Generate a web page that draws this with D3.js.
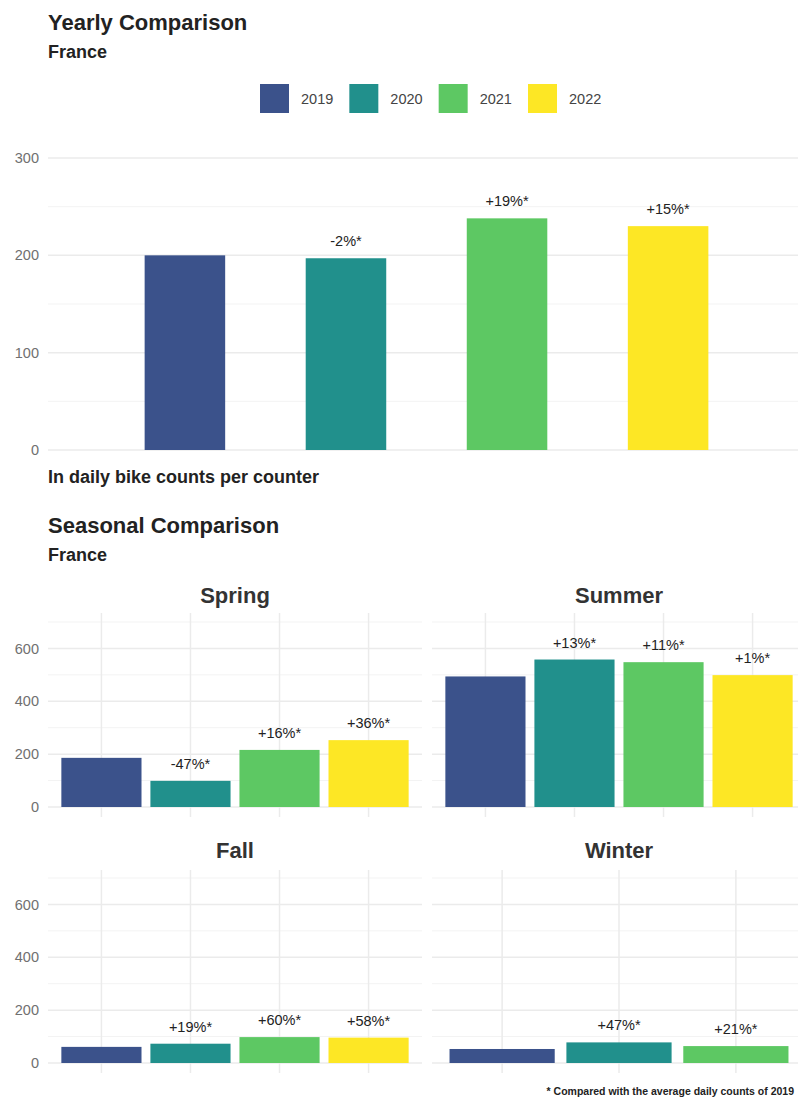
<!DOCTYPE html>
<html>
<head>
<meta charset="utf-8">
<script src="https://cdn.jsdelivr.net/npm/d3@7"></script>
<style>
  html, body { margin: 0; padding: 0; background: #ffffff; }
  svg { display: block; font-family: "Liberation Sans", Arial, sans-serif; }
</style>
</head>
<body>
<svg id="chart" width="798" height="1099"></svg>
<script>
// ---- data ----
const years = ["2019", "2020", "2021", "2022"];
const yearColors = ["#3B528B", "#21908C", "#5DC863", "#FDE725"];

const yearlyValues = [200, 197, 238, 230];
const yearlyLabels = ["", "-2%*", "+19%*", "+15%*"];
const yearlyTicks = [0, 100, 200, 300];
const yearlyMinorTicks = [50, 150, 250];

const seasons = ["Spring", "Summer", "Fall", "Winter"];
const springValues = [186, 99, 216, 253];
const springLabels = ["", "-47%*", "+16%*", "+36%*"];
const summerValues = [494, 558, 548, 499];
const summerLabels = ["", "+13%*", "+11%*", "+1%*"];
const fallValues = [61, 73, 98, 96];
const fallLabels = ["", "+19%*", "+60%*", "+58%*"];
const winterValues = [53, 78, 64];
const winterLabels = ["", "+47%*", "+21%*"];
const seasonalTicks = [0, 200, 400, 600];
const seasonalMinorTicks = [100, 300, 500, 700];

const seasonValues = [springValues, summerValues, fallValues, winterValues];
const seasonLabels = [springLabels, summerLabels, fallLabels, winterLabels];

// ---- styles ----
const TEXT_DARK = "#222222";
const TEXT_TICK = "#707070";
const GRID_MAJOR = "#ebebeb";
const GRID_MINOR = "#f3f3f3";

const svg = d3.select("#chart");
const color = d3.scaleOrdinal().domain(years).range(yearColors);

function addText(g, x, y, txt, size, weight, fill, anchor) {
  return g.append("text")
    .attr("x", x).attr("y", y)
    .attr("font-size", size)
    .attr("font-weight", weight || "normal")
    .attr("fill", fill || TEXT_DARK)
    .attr("text-anchor", anchor || "start")
    .text(txt);
}

// ================= Yearly comparison =================
addText(svg, 48, 30, "Yearly Comparison", 22, "bold");
addText(svg, 48, 58, "France", 18, "bold");

// legend
const legend = svg.append("g");
const legendX = d3.scalePoint().domain(years).range([260, 528]);
years.forEach(y => {
  const lx = legendX(y);
  legend.append("rect")
    .attr("x", lx).attr("y", 84)
    .attr("width", 29).attr("height", 29)
    .attr("fill", color(y));
  addText(legend, lx + 41, 104, y, 14.5, "normal", "#444444");
});

const topLeft = 48, topRight = 798;
const yYear = d3.scaleLinear().domain([0, 300]).range([450, 158]);
const xYear = d3.scaleBand().domain(years).range([48, 805])
  .paddingInner(0.5).paddingOuter(0.6);

const gTop = svg.append("g");
gTop.selectAll("line.minor").data(yearlyMinorTicks).join("line")
  .attr("x1", topLeft).attr("x2", topRight)
  .attr("y1", d => yYear(d)).attr("y2", d => yYear(d))
  .attr("stroke", GRID_MINOR).attr("stroke-width", 1);
gTop.selectAll("line.major").data(yearlyTicks).join("line")
  .attr("x1", topLeft).attr("x2", topRight)
  .attr("y1", d => yYear(d)).attr("y2", d => yYear(d))
  .attr("stroke", GRID_MAJOR).attr("stroke-width", 1.5);

// y axis labels via d3 axis (domain and tick lines hidden)
const yAxisTop = gTop.append("g")
  .attr("transform", "translate(45,0)")
  .call(d3.axisLeft(yYear).tickValues(yearlyTicks).tickSize(0).tickPadding(6));
yAxisTop.select(".domain").remove();
yAxisTop.selectAll("text")
  .attr("font-size", 14.5).attr("fill", TEXT_TICK)
  .attr("font-family", "Liberation Sans, Arial, sans-serif");

gTop.selectAll("rect.bar").data(years).join("rect")
  .attr("x", d => xYear(d))
  .attr("width", xYear.bandwidth())
  .attr("y", (d, i) => yYear(yearlyValues[i]))
  .attr("height", (d, i) => yYear(0) - yYear(yearlyValues[i]))
  .attr("fill", d => color(d));

gTop.selectAll("text.val").data(years).join("text")
  .attr("x", d => xYear(d) + xYear.bandwidth() / 2)
  .attr("y", (d, i) => yYear(yearlyValues[i]) - 12)
  .attr("text-anchor", "middle")
  .attr("font-size", 14.5)
  .attr("fill", TEXT_DARK)
  .text((d, i) => yearlyLabels[i]);

addText(svg, 48, 483, "In daily bike counts per counter", 18, "bold");

// ================= Seasonal comparison =================
addText(svg, 48, 533, "Seasonal Comparison", 22, "bold");
addText(svg, 48, 561, "France", 18, "bold");

const panelWidth = 374;
const colLeft = [48, 432];
const rowZero = [807, 1063];     // y position of value 0 in each row
const rowTop = [613, 870];       // top of each panel
const rowBottom = [817, 1073];   // bottom of each panel
const rowTitle = [603, 858];     // facet title baseline

seasons.forEach((season, si) => {
  const col = si % 2, row = Math.floor(si / 2);
  const x0 = colLeft[col], x1 = x0 + panelWidth;
  const vals = seasonValues[si];
  const labs = seasonLabels[si];
  const cats = years.slice(0, vals.length);

  const y = d3.scaleLinear().domain([0, 700]).range([rowZero[row], rowZero[row] - 185]);
  const x = d3.scaleBand().domain(cats).range([x0, x1])
    .paddingInner(0.1).paddingOuter(0.15);

  const g = svg.append("g");

  // facet title
  addText(g, (x0 + x1) / 2, rowTitle[row], season, 22, "bold", "#333333", "middle");

  // horizontal grid
  g.selectAll("line.minor").data(seasonalMinorTicks).join("line")
    .attr("x1", x0).attr("x2", x1)
    .attr("y1", d => y(d)).attr("y2", d => y(d))
    .attr("stroke", GRID_MINOR).attr("stroke-width", 1);
  g.selectAll("line.major").data(seasonalTicks).join("line")
    .attr("x1", x0).attr("x2", x1)
    .attr("y1", d => y(d)).attr("y2", d => y(d))
    .attr("stroke", GRID_MAJOR).attr("stroke-width", 1.5);

  // vertical grid at category centres
  g.selectAll("line.vgrid").data(cats).join("line")
    .attr("x1", d => x(d) + x.bandwidth() / 2)
    .attr("x2", d => x(d) + x.bandwidth() / 2)
    .attr("y1", rowTop[row]).attr("y2", rowBottom[row])
    .attr("stroke", GRID_MAJOR).attr("stroke-width", 1.5);

  // y axis labels only on the left column
  if (col === 0) {
    const ax = g.append("g")
      .attr("transform", "translate(45,0)")
      .call(d3.axisLeft(y).tickValues(seasonalTicks).tickSize(0).tickPadding(6));
    ax.select(".domain").remove();
    ax.selectAll("text")
      .attr("font-size", 14.5).attr("fill", TEXT_TICK)
      .attr("font-family", "Liberation Sans, Arial, sans-serif");
  }

  g.selectAll("rect.bar").data(cats).join("rect")
    .attr("x", d => x(d))
    .attr("width", x.bandwidth())
    .attr("y", (d, i) => y(vals[i]))
    .attr("height", (d, i) => y(0) - y(vals[i]))
    .attr("fill", d => color(d));

  g.selectAll("text.val").data(cats).join("text")
    .attr("x", d => x(d) + x.bandwidth() / 2)
    .attr("y", (d, i) => y(vals[i]) - 12)
    .attr("text-anchor", "middle")
    .attr("font-size", 14.5)
    .attr("fill", TEXT_DARK)
    .text((d, i) => labs[i]);
});

// footnote, right-aligned so it stays inside the page
addText(svg, 794, 1095, "* Compared with the average daily counts of 2019", 10.5, "bold", TEXT_DARK, "end");
</script>
</body>
</html>
